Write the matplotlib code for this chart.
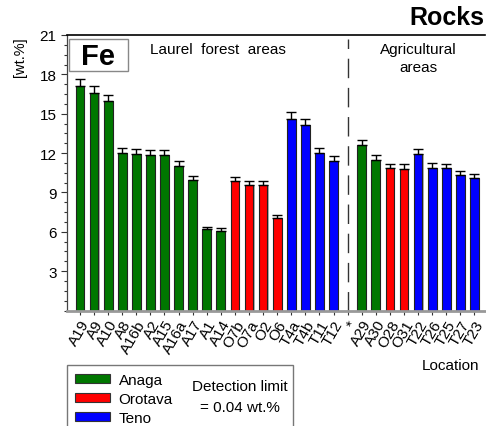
import matplotlib
matplotlib.use("Agg")
import matplotlib.pyplot as plt
from matplotlib.patches import Rectangle, Patch
from matplotlib.ticker import MultipleLocator, FixedLocator
import numpy as np

plt.rcParams['font.family'] = ['Liberation Sans', 'DejaVu Sans']

# ---- data ----
locations = ["A19", "A9", "A10", "A8", "A16b", "A2", "A15", "A16a", "A17", "A1", "A14",
             "O7b", "O7a", "O2", "O6", "T4a", "T4b", "T11", "T12", "*",
             "A29", "A30", "O28", "O31", "T22", "T26", "T25", "T27", "T23"]
regions = ["Anaga"] * 11 + ["Orotava"] * 4 + ["Teno"] * 4 + [None] + \
          ["Anaga"] * 2 + ["Orotava"] * 2 + ["Teno"] * 5
fe_values = [17.08, 16.58, 15.94, 12.02, 11.92, 11.82, 11.82, 11.05, 9.94, 6.22, 6.09,
             9.86, 9.60, 9.58, 7.06, 14.62, 14.16, 12.02, 11.41, None,
             12.61, 11.49, 10.83, 10.75, 11.95, 10.88, 10.83, 10.34, 10.09]
fe_errors = [0.55, 0.50, 0.50, 0.38, 0.38, 0.38, 0.38, 0.36, 0.35, 0.18, 0.18,
             0.35, 0.26, 0.28, 0.21, 0.50, 0.44, 0.38, 0.38, None,
             0.38, 0.36, 0.37, 0.38, 0.38, 0.36, 0.30, 0.33, 0.35]
region_colors = {"Anaga": "#007700", "Orotava": "#ff0000", "Teno": "#0000ff"}
yticks = [3, 6, 9, 12, 15, 18, 21]

W, H = 486, 427
fig = plt.figure(figsize=(W / 100, H / 100), dpi=100)

def fx(px):
    return px / W

def fy(py):
    return 1 - py / H

ax = fig.add_axes([fx(67), fy(311.5), fx(485) - fx(67), fy(36) - fy(311.5)])

x = np.arange(len(locations))
idx = [i for i, v in enumerate(fe_values) if v is not None]
vals = [fe_values[i] for i in idx]
errs = [fe_errors[i] for i in idx]
cols = [region_colors[regions[i]] for i in idx]
xs = x[idx]

# shadow
ax.bar(xs + 0.08, vals, width=0.62, color="#b0b0b0", edgecolor="none", zorder=1)
ax.bar(xs, vals, width=0.62, color=cols, edgecolor="#222222", linewidth=0.8, zorder=2)
ax.errorbar(xs, vals, yerr=[np.zeros(len(errs)), errs], fmt="none",
            ecolor="black", elinewidth=1.0, capsize=3.5, capthick=1.0, zorder=3)

sep = locations.index("*")
ax.plot([sep, sep], [0, 20.7], color="#333333", lw=1.0, linestyle=(0, (14, 7)), zorder=1)

ax.set_xlim(-0.92, 28.75)
ax.set_ylim(0, 21)
ax.yaxis.set_major_locator(FixedLocator(yticks))
ax.yaxis.set_minor_locator(MultipleLocator(0.75))
ax.set_yticklabels([str(t) for t in yticks], fontsize=11)
ax.tick_params(axis="y", which="major", direction="out", length=4, width=0.8, colors="#333333", labelcolor="black")
ax.tick_params(axis="y", which="minor", direction="out", length=2.5, width=0.8, colors="#333333")
ax.set_xticks(x)
ax.set_xticklabels(locations, rotation=60, ha="right", rotation_mode="anchor", fontsize=11)
ax.tick_params(axis="x", direction="out", length=3, width=0.8, colors="#333333", labelcolor="black", pad=2)

ax.spines["right"].set_visible(False)
ax.spines["top"].set_color("black")
ax.spines["top"].set_linewidth(1.2)
ax.spines["left"].set_color("#444444")
ax.spines["left"].set_linewidth(0.9)
ax.spines["bottom"].set_color("#999999")
ax.spines["bottom"].set_linewidth(2.0)

# texts
fig.text(fx(20), fy(57), "[wt.%]", rotation=90, ha="center", va="center", fontsize=10.5)
fig.text(fx(484), fy(18), "Rocks", ha="right", va="center", fontsize=18, fontweight="bold")
fig.patches.append(Rectangle((fx(69), fy(72)), fx(128) - fx(69), fy(40) - fy(72),
                             transform=fig.transFigure, facecolor="white",
                             edgecolor="#888888", linewidth=1.0, zorder=5))
fig.text(fx(98), fy(57), "Fe", ha="center", va="center", fontsize=21, fontweight="bold", zorder=6)
fig.text(fx(218), fy(50), "Laurel  forest  areas", ha="center", va="center", fontsize=11)
fig.text(fx(418), fy(59), "Agricultural\nareas", ha="center", va="center", fontsize=11,
         linespacing=1.35)
fig.text(fx(450), fy(366), "Location", ha="center", va="center", fontsize=11)

# legend box
fig.patches.append(Rectangle((fx(67), fy(430)), fx(293) - fx(67), fy(366) - fy(430),
                             transform=fig.transFigure, facecolor="white",
                             edgecolor="#777777", linewidth=1.0, zorder=0))
handles = [Patch(facecolor=region_colors[k], edgecolor="#333333", linewidth=0.8, label=k)
           for k in ["Anaga", "Orotava", "Teno"]]
fig.legend(handles=handles, loc="upper left", bbox_to_anchor=(fx(75), fy(374)),
           frameon=False, fontsize=11, handlelength=2.3, handleheight=0.5,
           labelspacing=0.33, borderpad=0, borderaxespad=0, handletextpad=0.55)
fig.text(fx(240), fy(387), "Detection limit", ha="center", va="center", fontsize=11)
fig.text(fx(240), fy(408), "= 0.04 wt.%", ha="center", va="center", fontsize=11)

fig.savefig("out.png", dpi=100)
